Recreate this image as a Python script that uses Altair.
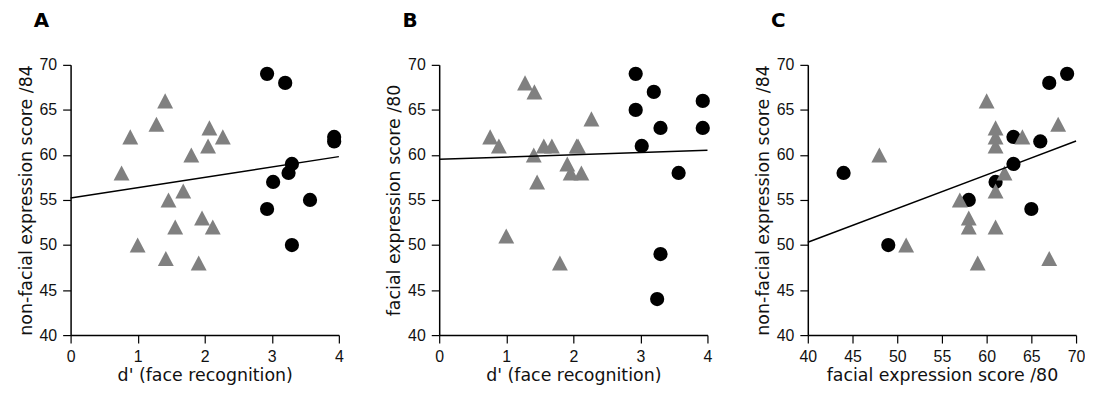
import altair as alt
import pandas as pd

# Patients (grey triangles)
patient_dprime = [0.76, 0.89, 1.00, 1.28, 1.41, 1.42, 1.46, 1.56, 1.68, 1.80, 1.91, 1.96, 2.05, 2.07, 2.12, 2.27]
patient_facial = [62, 61, 51, 68, 60, 67, 57, 61, 61, 48, 59, 58, 61, 61, 58, 64]
patient_nonfacial = [58, 62, 50, 63.4, 66, 48.5, 55, 52, 56, 60, 48, 53, 61, 63, 52, 62]

# Controls (black circles)
control_dprime = [2.93, 3.20, 3.93, 3.93, 3.30, 3.25, 3.02, 3.57, 2.93, 3.30]
control_facial = [69, 67, 63, 66, 63, 44, 61, 58, 65, 49]
control_nonfacial = [69, 68, 62, 61.5, 59, 58, 57, 55, 54, 50]

y_ticks = [40, 45, 50, 55, 60, 65, 70]
d_ticks = [0, 1, 2, 3, 4]
f_ticks = [40, 45, 50, 55, 60, 65, 70]

df = pd.concat([
    pd.DataFrame({"dprime": patient_dprime, "facial": patient_facial,
                  "nonfacial": patient_nonfacial, "group": "patient"}),
    pd.DataFrame({"dprime": control_dprime, "facial": control_facial,
                  "nonfacial": control_nonfacial, "group": "control"}),
], ignore_index=True)

TRI = "M0,-0.95L1,0.95L-1,0.95Z"
TFONT = "DejaVu Sans"
LFONT = "Liberation Sans"


def panel(xf, yf, xtitle, ytitle, xdom, xticks, letter):
    base = alt.Chart(df)
    x = alt.X(f"{xf}:Q", scale=alt.Scale(domain=xdom, nice=False, zero=False),
              axis=alt.Axis(values=xticks, title=xtitle, format="d",
                            titlePadding=2, labelPadding=6))
    y = alt.Y(f"{yf}:Q", scale=alt.Scale(domain=[40, 70], nice=False, zero=False),
              axis=alt.Axis(values=y_ticks, title=ytitle, format="d",
                            titlePadding=4, labelPadding=6))
    circles = base.transform_filter(alt.datum.group == "control").mark_point(
        shape="circle", filled=True, color="#000000", opacity=1, size=205, strokeWidth=0
    ).encode(x=x, y=y)
    tris = base.transform_filter(alt.datum.group == "patient").mark_point(
        shape=TRI, filled=True, color="#808080", opacity=1, size=256, strokeWidth=0
    ).encode(x=x, y=y)
    line = base.transform_regression(on=xf, regression=yf, extent=xdom).mark_line(
        color="black", strokeWidth=1.5
    ).encode(x=f"{xf}:Q", y=f"{yf}:Q")
    return alt.layer(circles, tris, line).properties(
        width=270, height=272,
        title=alt.TitleParams(letter, anchor="start", frame="group", dx=-37,
                              font=TFONT, fontSize=20, fontWeight="bold",
                              color="black", offset=26),
    )


a = panel("dprime", "nonfacial", "d' (face recognition)", "non-facial expression score /84",
          [0, 4], d_ticks, "A")
b = panel("dprime", "facial", "d' (face recognition)", "facial expression score /80",
          [0, 4], d_ticks, "B")
c = panel("facial", "nonfacial", "facial expression score /80", "non-facial expression score /84",
          [40, 70], f_ticks, "C")

chart = alt.hconcat(a, b, c, spacing=101, bounds="flush").configure_view(
    stroke=None
).configure_axis(
    grid=False, domainColor="black", tickColor="black", domainWidth=1.5, tickWidth=1.2,
    tickSize=8, labelFont=LFONT, labelFontSize=16, labelColor="#111",
    titleFont=TFONT, titleFontSize=17.5, titleFontWeight="normal", titleColor="#111",
    labelFlush=False, labelOverlap=False,
).properties(padding={"left": 9, "top": 2, "right": 0, "bottom": 0})

chart.save("out.html", embed_options={"renderer": "svg", "actions": False})
